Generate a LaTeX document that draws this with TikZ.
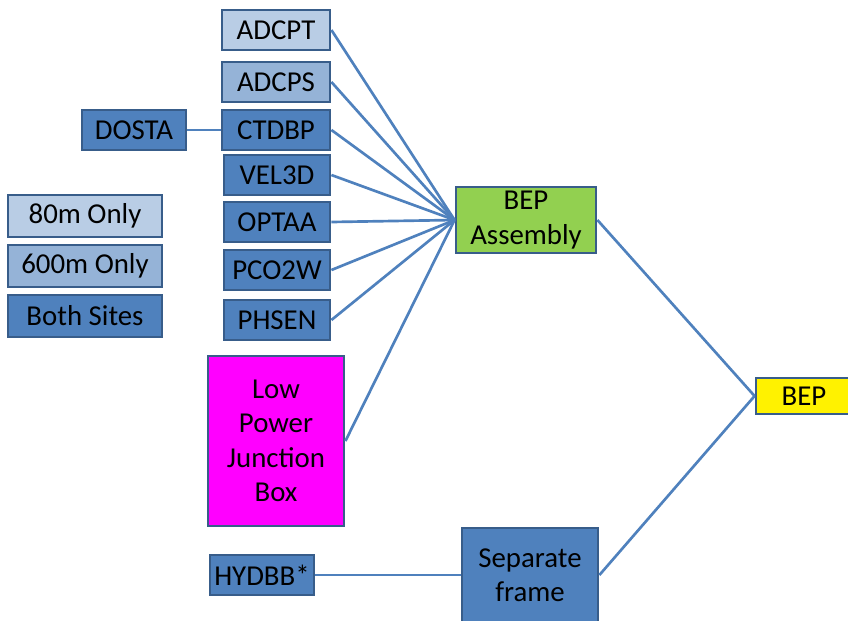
\documentclass[tikz,border=0pt]{standalone}
\usepackage{fontspec}
\setmainfont{Carlito}
\definecolor{lightbl}{HTML}{B9CDE5}
\definecolor{midbl}{HTML}{95B3D7}
\definecolor{darkbl}{HTML}{4F81BD}
\definecolor{rimbl}{HTML}{385D8A}
\definecolor{leafgr}{HTML}{92D050}
\definecolor{boxpink}{HTML}{FF00FF}

\begin{document}
\begin{tikzpicture}[x=0.025cm, y=-0.025cm,
    box/.style={draw=rimbl, line width=2pt, fill=darkbl, inner sep=0pt, minimum width=2.7cm, minimum height=1cm, align=center, font=\fontsize{20.5}{24.5}\selectfont},
    link/.style={draw=darkbl, line width=1.9pt}]
    \useasboundingbox (0,0) rectangle (848,620);
    % instruments
    \node[box, fill=lightbl](adcpt) at (276,30){ADCPT};
    \node[box, fill=midbl](adcps) at (276,82){ADCPS};
    \node[box](ctdbp) at (276,130){CTDBP};
    \node[box, minimum width=2.6cm](dosta) at (134,130){DOSTA};
    \node[box, minimum width=2.65cm](vel) at (277,175){VEL3D};
    \node[box, minimum width=2.65cm](optaa) at (277,222){OPTAA};
    \node[box, minimum width=2.65cm](pco) at (277,270){PCO2W};
    \node[box, minimum width=2.65cm](phsen) at (277,320){PHSEN};
    \node[box, fill=boxpink, minimum width=3.4cm, minimum height=4.25cm](ljb) at (276,441){Low\\Power\\Junction\\Box};
    \node[box, minimum width=2.6cm](hydbb) at (262,575){HYDBB*};
    % legend
    \node[box, fill=lightbl, minimum width=3.85cm, minimum height=1.05cm](onlya) at (85,216){80m Only};
    \node[box, fill=midbl, minimum width=3.85cm, minimum height=1.05cm](onlyb) at (85,266){600m Only};
    \node[box, minimum width=3.85cm, minimum height=1.05cm](both) at (85,316){Both Sites};
    % assemblies
    \node[box, fill=leafgr, minimum width=3.5cm, minimum height=1.65cm](asm) at (526,220){BEP\\Assembly};
    \node[box, minimum width=3.4cm, minimum height=2.35cm](frame) at (530,575){Separate\\frame};
    \node[box, fill=yellow, minimum width=2.4cm, minimum height=0.9cm](bep) at (804,396){BEP};
    \foreach \n in {adcpt,adcps,ctdbp,vel,optaa,pco,phsen,ljb}
        \draw[link](\n.east)--(asm.west);
    \draw[link](dosta)--(ctdbp);
    \draw[link](hydbb)--(frame);
    \draw[link](asm.east)--(bep.west);
    \draw[link](frame.east)--(bep.west);
\end{tikzpicture}
\end{document}
